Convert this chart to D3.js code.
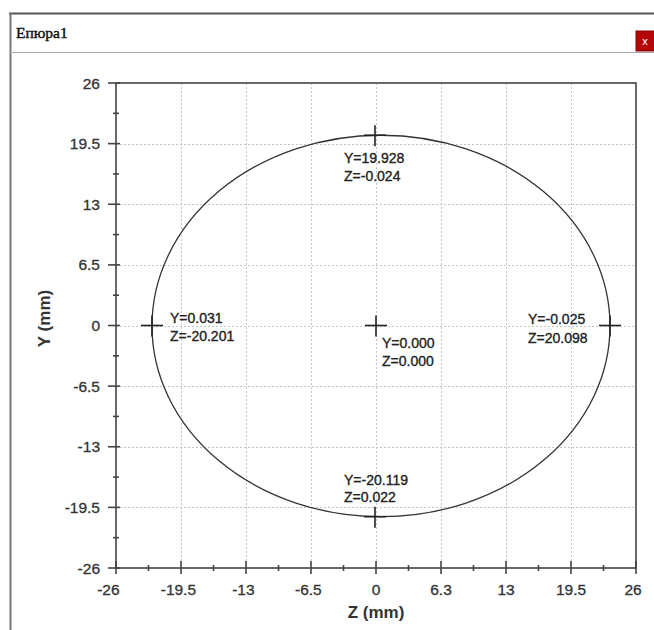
<!DOCTYPE html>
<html>
<head>
<meta charset="utf-8">
<script src="https://cdn.jsdelivr.net/npm/d3@7"></script>
<style>
  html, body { margin: 0; padding: 0; background: #fff; }
  svg { display: block; }
</style>
</head>
<body>
<svg id="chart" width="654" height="630"></svg>
<script>
// ---- data ----
const windowTitle = "Епюра1";
const zTicks = [-26, -19.5, -13, -6.5, 0, 6.5, 13, 19.5, 26];
const zTickLabels = ["-26", "-19.5", "-13", "-6.5", "0", "6.3", "13", "19.5", "26"];
const yTicks = [26, 19.5, 13, 6.5, 0, -6.5, -13, -19.5, -26];
const yTickLabels = ["26", "19.5", "13", "6.5", "0", "-6.5", "-13", "-19.5", "-26"];
const pointNames = ["top", "left", "center", "right", "bottom"];
const pointZ = [-0.1, -22.4, 0, 23.4, -0.1];
const pointY = [20.4, 0, 0, 0, -20.5];
const pointLabelY = ["Y=19.928", "Y=0.031", "Y=0.000", "Y=-0.025", "Y=-20.119"];
const pointLabelZ = ["Z=-0.024", "Z=-20.201", "Z=0.000", "Z=20.098", "Z=0.022"];
const xTitle = "Z (mm)";
const yTitle = "Y (mm)";

// ---- layout ----
const plot = { left: 116, right: 636, top: 83, bottom: 568 };
const labelOffsets = {
  top:    { dx: -31, dy1: 28, dy2: 46 },
  left:   { dx: 18,  dy1: -3, dy2: 15 },
  center: { dx: 6,   dy1: 22, dy2: 40 },
  right:  { dx: -82, dy1: -2, dy2: 17 },
  bottom: { dx: -31, dy1: -32, dy2: -15 }
};
const font = "'Liberation Sans', Arial, sans-serif";

const svg = d3.select("#chart");

// ---- window frame ----
svg.append("line").attr("x1", 9).attr("x2", 654).attr("y1", 13.5).attr("y2", 13.5)
  .attr("stroke", "#555").attr("stroke-width", 2);
svg.append("line").attr("x1", 10.5).attr("x2", 10.5).attr("y1", 13).attr("y2", 630)
  .attr("stroke", "#777").attr("stroke-width", 2);
svg.append("line").attr("x1", 10).attr("x2", 654).attr("y1", 52.5).attr("y2", 52.5)
  .attr("stroke", "#aaa").attr("stroke-width", 1);
svg.append("text").attr("x", 16).attr("y", 38)
  .attr("font-family", "'Liberation Serif', 'Times New Roman', serif")
  .attr("font-size", 15.5).attr("fill", "#111").attr("stroke", "#111").attr("stroke-width", 0.45)
  .text(windowTitle);
svg.append("rect").attr("x", 636).attr("y", 31).attr("width", 22).attr("height", 20)
  .attr("fill", "#b3070a").attr("stroke", "#8a0000");
svg.append("text").attr("x", 645).attr("y", 45).attr("text-anchor", "middle")
  .attr("font-family", font).attr("font-size", 11).attr("fill", "#fff").text("x");

// ---- scales ----
const x = d3.scaleLinear().domain([-26, 26]).range([plot.left, plot.right]);
const y = d3.scaleLinear().domain([-26, 26]).range([plot.bottom, plot.top]);

const minorZ = zTicks.slice(0, -1).map((t, i) => (t + zTicks[i + 1]) / 2);
const minorY = yTicks.slice(0, -1).map((t, i) => (t + yTicks[i + 1]) / 2);

// ---- grid ----
const grid = svg.append("g").attr("stroke", "#c4c4c4").attr("stroke-width", 1)
  .attr("stroke-dasharray", "2,2");
grid.selectAll("line.v").data(zTicks.slice(1, -1)).join("line")
  .attr("x1", d => Math.round(x(d)) + 0.5).attr("x2", d => Math.round(x(d)) + 0.5)
  .attr("y1", plot.top).attr("y2", plot.bottom);
grid.selectAll("line.h").data(yTicks.slice(1, -1)).join("line")
  .attr("y1", d => Math.round(y(d)) + 0.5).attr("y2", d => Math.round(y(d)) + 0.5)
  .attr("x1", plot.left).attr("x2", plot.right);

// ---- frame ----
svg.append("rect").attr("x", plot.left).attr("y", plot.top)
  .attr("width", plot.right - plot.left).attr("height", plot.bottom - plot.top)
  .attr("fill", "none").attr("stroke", "#444").attr("stroke-width", 1.6);

// ---- axes ticks ----
const xAxisG = svg.append("g").attr("stroke", "#444").attr("stroke-width", 1.6);
xAxisG.selectAll("line.maj").data(zTicks).join("line")
  .attr("x1", d => x(d)).attr("x2", d => x(d))
  .attr("y1", plot.bottom - 7).attr("y2", plot.bottom + 6);
xAxisG.selectAll("line.min").data(minorZ).join("line").attr("class", "min")
  .attr("x1", d => x(d)).attr("x2", d => x(d))
  .attr("y1", plot.bottom - 3).attr("y2", plot.bottom + 3);

const yAxisG = svg.append("g").attr("stroke", "#444").attr("stroke-width", 1.6);
yAxisG.selectAll("line.maj").data(yTicks).join("line")
  .attr("y1", d => y(d)).attr("y2", d => y(d))
  .attr("x1", plot.left - 8).attr("x2", plot.left + 4);
yAxisG.selectAll("line.min").data(minorY).join("line").attr("class", "min")
  .attr("y1", d => y(d)).attr("y2", d => y(d))
  .attr("x1", plot.left - 3).attr("x2", plot.left + 3);

// tick labels
const tickStyle = sel => sel.attr("font-family", font).attr("font-size", 15.5)
  .attr("fill", "#333").attr("stroke", "#333").attr("stroke-width", 0.3);
svg.append("g").selectAll("text").data(zTicks).join("text")
  .attr("x", (d, i) => x(d) - (zTickLabels[i].startsWith("-") ? 2.6 : 0) - (i === 0 ? 5 : 0) - (i === zTicks.length - 1 ? 3 : 0))
  .attr("y", plot.bottom + 27)
  .attr("text-anchor", "middle").call(tickStyle).text((d, i) => zTickLabels[i]);
svg.append("g").selectAll("text").data(yTicks).join("text")
  .attr("x", plot.left - 16).attr("y", d => y(d) + 5.5)
  .attr("text-anchor", "end").call(tickStyle).text((d, i) => yTickLabels[i]);

// axis titles
svg.append("text").attr("x", x(0)).attr("y", 618).attr("text-anchor", "middle")
  .attr("font-family", font).attr("font-size", 17).attr("font-weight", "bold")
  .attr("fill", "#333").text(xTitle);
svg.append("text").attr("transform", `translate(50, ${y(0) - 7}) rotate(-90)`)
  .attr("text-anchor", "middle").attr("font-family", font).attr("font-size", 17)
  .attr("font-weight", "bold").attr("fill", "#333").text(yTitle);

// ---- ellipse through the extreme points ----
const zMin = d3.min(pointZ), zMax = d3.max(pointZ);
const yMin = d3.min(pointY), yMax = d3.max(pointY);
svg.append("ellipse")
  .attr("cx", (x(zMin) + x(zMax)) / 2).attr("cy", (y(yMin) + y(yMax)) / 2)
  .attr("rx", (x(zMax) - x(zMin)) / 2).attr("ry", (y(yMin) - y(yMax)) / 2)
  .attr("fill", "none").attr("stroke", "#333").attr("stroke-width", 1.3);

// ---- crosshair markers + labels ----
const pts = pointNames.map((n, i) => ({ name: n, z: pointZ[i], y: pointY[i], l1: pointLabelY[i], l2: pointLabelZ[i] }));
const mk = svg.append("g").attr("stroke", "#222").attr("stroke-width", 1.6);
mk.selectAll("line.h").data(pts).join("line")
  .attr("x1", d => x(d.z) - 11).attr("x2", d => x(d.z) + 11)
  .attr("y1", d => y(d.y)).attr("y2", d => y(d.y));
mk.selectAll("line.v").data(pts).join("line").attr("class", "v")
  .attr("x1", d => x(d.z)).attr("x2", d => x(d.z))
  .attr("y1", d => y(d.y) - 10).attr("y2", d => y(d.y) + 11);

const lab = svg.append("g").attr("font-family", font).attr("font-size", 14)
  .attr("fill", "#222").attr("stroke", "#222").attr("stroke-width", 0.35);
lab.selectAll("text.a").data(pts).join("text")
  .attr("x", d => x(d.z) + labelOffsets[d.name].dx)
  .attr("y", d => y(d.y) + labelOffsets[d.name].dy1).text(d => d.l1);
lab.selectAll("text.b").data(pts).join("text").attr("class", "b")
  .attr("x", d => x(d.z) + labelOffsets[d.name].dx)
  .attr("y", d => y(d.y) + labelOffsets[d.name].dy2).text(d => d.l2);
</script>
</body>
</html>
